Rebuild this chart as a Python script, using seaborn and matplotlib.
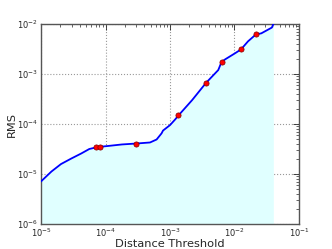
import numpy as np
import pandas as pd
import seaborn as sns
import matplotlib
matplotlib.use('Agg')
import matplotlib.pyplot as plt
from matplotlib.ticker import LogLocator

# RMS curve
dist = [1.0e-5, 1.45e-5, 2.04e-5, 2.95e-5, 4.2e-5, 5.6e-5, 7.1e-5, 8.1e-5,
        1.02e-4, 1.8e-4, 3.0e-4, 4.9e-4, 6.2e-4, 7.4e-4, 7.8e-4, 1.0e-3,
        1.2e-3, 1.35e-3, 2.2e-3, 3.6e-3, 5.6e-3, 6.3e-3, 7.1e-3, 1.02e-2,
        1.26e-2, 1.62e-2, 2.15e-2, 2.6e-2, 3.8e-2, 4.07e-2]
rms = [7.1e-6, 1.12e-5, 1.58e-5, 2.04e-5, 2.57e-5, 3.16e-5, 3.4e-5, 3.5e-5,
       3.6e-5, 3.9e-5, 4.07e-5, 4.27e-5, 4.9e-5, 6.5e-5, 7.4e-5, 9.5e-5,
       1.23e-4, 1.48e-4, 3.0e-4, 6.6e-4, 1.2e-3, 1.74e-3, 1.95e-3, 2.6e-3,
       3.1e-3, 4.5e-3, 6.2e-3, 6.5e-3, 8.5e-3, 1.05e-2]

# highlighted points
mark_dist = [7.1e-5, 8.1e-5, 3.0e-4, 1.35e-3, 3.6e-3, 6.3e-3, 1.26e-2, 2.15e-2]
mark_rms = [3.4e-5, 3.5e-5, 4.0e-5, 1.48e-4, 6.7e-4, 1.75e-3, 3.1e-3, 6.2e-3]

df = pd.DataFrame({'dist': dist, 'rms': rms})
marks = pd.DataFrame({'dist': mark_dist, 'rms': mark_rms})

sns.set_style('white', {'xtick.direction': 'in', 'ytick.direction': 'in'})
plt.rcParams['font.family'] = ['DejaVu Sans']

fig = plt.figure(figsize=(3.32, 2.49), dpi=100)
ax = fig.add_axes([0.1235, 0.1004, 0.7771, 0.8032])

ax.fill_between(df['dist'], df['rms'], 1e-7, color='#e0ffff', lw=0, zorder=1)
sns.lineplot(data=df, x='dist', y='rms', ax=ax, color='blue', lw=1.3, zorder=3)
sns.scatterplot(data=marks, x='dist', y='rms', ax=ax, color='red',
                edgecolor='#800000', linewidth=0.5, s=14, zorder=4)

ax.set_xscale('log')
ax.set_yscale('log')
ax.set_xlim(1e-5, 1e-1)
ax.set_ylim(1e-6, 1e-2)
ax.grid(True, which='major', color='#999999', linestyle=':', lw=0.8)
ax.tick_params(which='both', direction='in', top=True, right=True,
               labelsize=6, pad=2)
ax.tick_params(which='major', length=4, width=0.6)
ax.tick_params(which='minor', length=2, width=0.5)
ax.xaxis.set_minor_locator(LogLocator(base=10, subs=np.arange(2, 10)))
ax.yaxis.set_minor_locator(LogLocator(base=10, subs=np.arange(2, 10)))
for s in ax.spines.values():
    s.set_color('#555555')
    s.set_linewidth(1.0)

ax.set_xlabel('Distance Threshold', fontsize=8.2)
ax.set_ylabel('RMS', fontsize=8.2)
ax.xaxis.set_label_coords(0.5, -0.075)
ax.yaxis.set_label_coords(-0.095, 0.5)

fig.savefig('out.png', dpi=100)
